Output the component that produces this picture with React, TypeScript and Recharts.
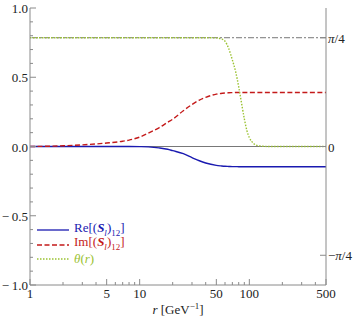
import React from "react";
import {
  LineChart,
  Line,
  XAxis,
  YAxis,
  ReferenceLine,
} from "recharts";

// r in GeV^-1
const rValues = [1, 2, 3, 5, 7, 8, 10, 12, 15, 18, 20, 25, 30, 35, 40, 50, 55, 60, 65, 70, 75, 80, 85, 90, 95, 100, 110, 120, 150, 200, 300, 500];
const reValues = [0, 0, 0, 0, 0, 0, -0.001, -0.003, -0.01, -0.02, -0.03, -0.052, -0.08, -0.103, -0.119, -0.136, -0.14, -0.143, -0.144, -0.145, -0.145, -0.146, -0.146, -0.146, -0.146, -0.146, -0.146, -0.146, -0.146, -0.146, -0.146, -0.146];
const imValues = [0, 0.005, 0.012, 0.025, 0.038, 0.046, 0.068, 0.097, 0.135, 0.175, 0.197, 0.258, 0.303, 0.335, 0.355, 0.378, 0.383, 0.386, 0.388, 0.389, 0.39, 0.39, 0.39, 0.39, 0.39, 0.39, 0.39, 0.39, 0.39, 0.39, 0.39, 0.39];
const thetaValues = [0.785, 0.785, 0.785, 0.785, 0.785, 0.785, 0.785, 0.785, 0.785, 0.785, 0.785, 0.785, 0.785, 0.785, 0.785, 0.784, 0.778, 0.76, 0.705, 0.625, 0.54, 0.43, 0.31, 0.2, 0.115, 0.065, 0.02, 0.006, 0, 0, 0, 0];

const xTicks = [1, 2, 3, 4, 5, 6, 7, 8, 9, 10, 20, 30, 40, 50, 60, 70, 80, 90, 100, 200, 300, 400, 500];
const xMajor = [1, 5, 10, 50, 100, 500];
const yTicks = [-1, -0.9, -0.8, -0.7, -0.6, -0.5, -0.4, -0.3, -0.2, -0.1, 0, 0.1, 0.2, 0.3, 0.4, 0.5, 0.6, 0.7, 0.8, 0.9, 1];
const yLabels: Record<string, string> = {
  "-1": "\u2212\u20091.0",
  "-0.5": "\u2212\u20090.5",
  "0": "0.0",
  "0.5": "0.5",
  "1": "1.0",
};
const rightTicks = [-Math.PI / 4, 0, Math.PI / 4];
const rightLabels = ["\u2212\u03c0/4", "0", "\u03c0/4"];

const data = rValues.map((r, i) => ({
  r,
  re: reValues[i],
  im: imValues[i],
  theta: thetaValues[i],
}));

const FONT = "Liberation Serif, Times New Roman, DejaVu Serif, serif";
const AXIS = "#8a8a8a";
const BLUE = "#1a1ab0";
const RED = "#c41a1a";
const GREEN = "#9bc232";
const PLOT_LEFT = 30;
const PLOT_RIGHT = 326;

const BottomTick = (props: any) => {
  const { x, y, payload } = props;
  const major = xMajor.includes(payload.value);
  return (
    <g>
      <line x1={x} x2={x} y1={y} y2={y - (major ? 6 : 3)} stroke={AXIS} />
      {major && (
        <text x={x} y={y + 13} textAnchor="middle" fontFamily={FONT} fontSize={13} fill="#222">
          {payload.value}
        </text>
      )}
    </g>
  );
};

const TopTick = (props: any) => {
  const { x, y, payload } = props;
  const major = xMajor.includes(payload.value);
  return <line x1={x} x2={x} y1={y} y2={y + (major ? 6 : 3)} stroke={AXIS} />;
};

const LeftTick = (props: any) => {
  const { y, payload } = props;
  const v = Math.round(payload.value * 10) / 10;
  const label = yLabels[String(v)];
  return (
    <g>
      <line x1={PLOT_LEFT} x2={PLOT_LEFT + (label ? 6 : 3)} y1={y} y2={y} stroke={AXIS} />
      {label && (
        <text x={PLOT_LEFT - 2} y={y + 5} textAnchor="end" fontFamily={FONT} fontSize={13} fill="#222">
          {label}
        </text>
      )}
    </g>
  );
};

const RightTick = (props: any) => {
  const { y, index } = props;
  const parts = rightLabels[index].split("\u03c0");
  return (
    <g>
      <line x1={PLOT_RIGHT} x2={PLOT_RIGHT - 6} y1={y} y2={y} stroke={AXIS} />
      <text x={PLOT_RIGHT + 2} y={y + 5} textAnchor="start" fontFamily={FONT} fontSize={13} fill="#222">
        {parts.length === 1 ? (
          parts[0]
        ) : (
          <>
            {parts[0]}
            <tspan fontStyle="italic">{"\u03c0"}</tspan>
            {parts[1]}
          </>
        )}
      </text>
    </g>
  );
};

const XLabel = (props: any) => {
  const { viewBox } = props;
  const cx = viewBox.x + viewBox.width / 2;
  return (
    <text x={cx} y={viewBox.y + 29} textAnchor="middle" fontFamily={FONT} fontSize={13} fill="#222">
      <tspan fontStyle="italic">r</tspan>
      <tspan> [GeV</tspan>
      <tspan fontSize={9} dy={-5}>{"\u22121"}</tspan>
      <tspan dy={5}>]</tspan>
    </text>
  );
};

const sLabel = (
  <>
    [(<b><i>S</i></b><sub style={{ fontStyle: "italic", fontSize: 9 }}>l</sub>)<sub style={{ fontSize: 9 }}>12</sub>]
  </>
);

const legendItems = [
  { color: BLUE, dash: undefined, text: <>Re{sLabel}</> },
  { color: RED, dash: "5 2.5", text: <>Im{sLabel}</> },
  { color: GREEN, dash: "1.5 1.5", text: <><i>θ</i>(<i>r</i>)</> },
];

const ChartLegend = () => (
  <div
    style={{
      position: "absolute",
      left: 37,
      top: 223,
      fontFamily: FONT,
      fontSize: 13,
      lineHeight: "14.5px",
    }}
  >
    {legendItems.map((item, i) => (
      <div key={i} style={{ display: "flex", alignItems: "center", color: item.color, height: 14.5 }}>
        <svg width={32} height={6} style={{ marginRight: 5 }}>
          <line x1={0} x2={32} y1={3} y2={3} stroke={item.color} strokeWidth={1.3} strokeDasharray={item.dash} />
        </svg>
        <span>{item.text}</span>
      </div>
    ))}
  </div>
);

export default function App() {
  return (
    <div style={{ position: "absolute", left: 0, top: 0, width: 357, height: 323, background: "#fff" }}>
      <LineChart
        width={357}
        height={323}
        data={data}
        margin={{ top: 8, right: 0, bottom: 0, left: 0 }}
      >
        <XAxis
          xAxisId="bottom"
          dataKey="r"
          type="number"
          scale="log"
          domain={[1, 500]}
          ticks={xTicks}
          interval={0}
          allowDataOverflow
          height={38}
          tickSize={0}
          tickMargin={0}
          tickLine={false}
          tick={<BottomTick />}
          stroke={AXIS}
          label={<XLabel />}
        />
        <XAxis
          xAxisId="top"
          orientation="top"
          dataKey="r"
          type="number"
          scale="log"
          domain={[1, 500]}
          ticks={xTicks}
          interval={0}
          allowDataOverflow
          height={0}
          tickSize={0}
          tickMargin={0}
          tickLine={false}
          tick={<TopTick />}
          stroke={AXIS}
        />
        <YAxis
          yAxisId="left"
          type="number"
          domain={[-1, 1]}
          ticks={yTicks}
          width={30}
          tickSize={0}
          tickMargin={0}
          tickLine={false}
          tick={<LeftTick />}
          stroke={AXIS}
          interval={0}
        />
        <YAxis
          yAxisId="right"
          orientation="right"
          type="number"
          domain={[-1, 1]}
          ticks={rightTicks}
          width={31}
          tickSize={0}
          tickMargin={0}
          tickLine={false}
          tick={<RightTick />}
          stroke={AXIS}
          interval={0}
        />
        <ReferenceLine xAxisId="bottom" yAxisId="left" y={0} stroke="#555" strokeWidth={0.8} />
        <ReferenceLine
          xAxisId="bottom"
          yAxisId="right"
          y={Math.PI / 4}
          stroke="#777"
          strokeWidth={1}
          strokeDasharray="6 2 2 2"
        />
        <Line
          xAxisId="bottom"
          yAxisId="left"
          dataKey="re"
          type="monotone"
          stroke={BLUE}
          strokeWidth={1.4}
          dot={false}
          isAnimationActive={false}
        />
        <Line
          xAxisId="bottom"
          yAxisId="left"
          dataKey="im"
          type="monotone"
          stroke={RED}
          strokeWidth={1.4}
          strokeDasharray="5 2.5"
          dot={false}
          isAnimationActive={false}
        />
        <Line
          xAxisId="bottom"
          yAxisId="right"
          dataKey="theta"
          type="monotone"
          stroke={GREEN}
          strokeWidth={1.4}
          strokeDasharray="1.5 1.5"
          dot={false}
          isAnimationActive={false}
        />
      </LineChart>
      <ChartLegend />
    </div>
  );
}
